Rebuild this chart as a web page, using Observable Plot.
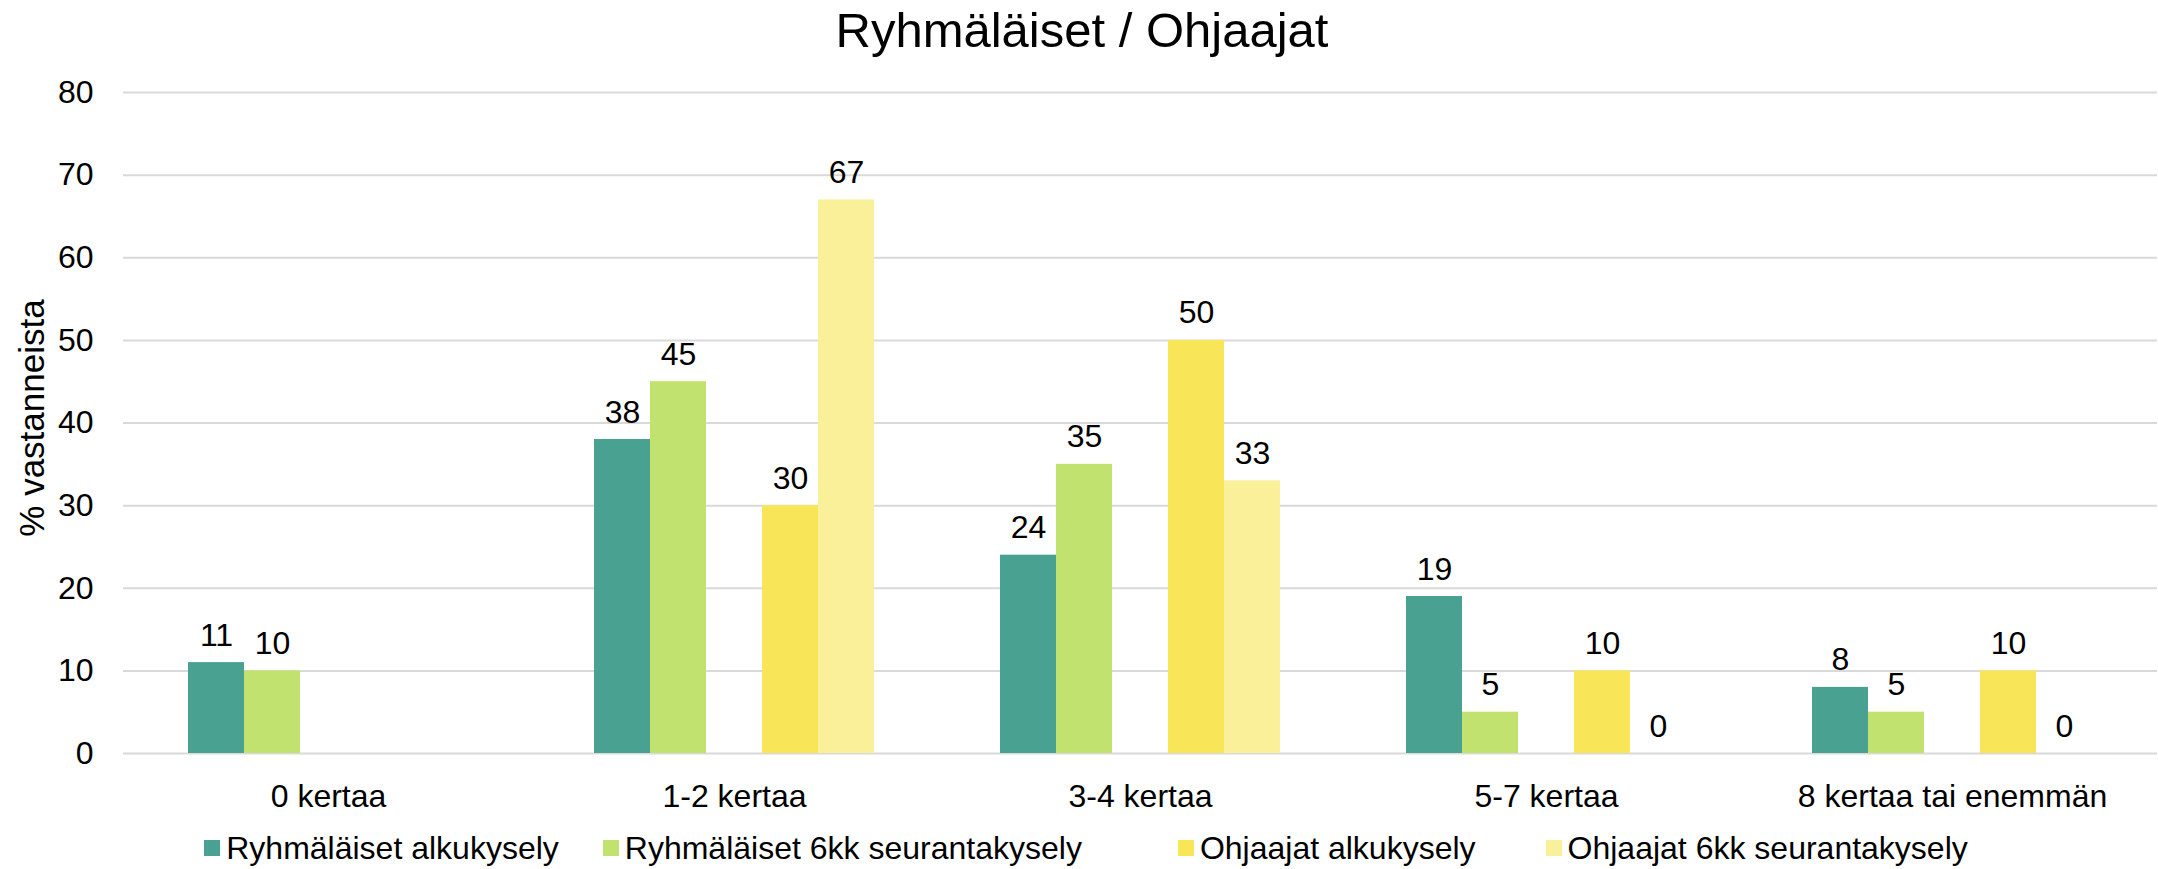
<!DOCTYPE html>
<html>
<head>
<meta charset="utf-8">
<script src="https://cdn.jsdelivr.net/npm/d3@7"></script>
<script src="https://cdn.jsdelivr.net/npm/@observablehq/plot@0.6"></script>
<style>
  body { margin: 0; background: #fff; font-family: "Liberation Sans", Arial, sans-serif; color: #000; }
  #wrap { position: relative; width: 2158px; height: 869px; overflow: hidden; background: #fff; }
  #wrap svg { position: absolute; left: 0; top: 0; }
  #title { position: absolute; left: 0; width: 2158px; top: 6px; text-align: center; font-size: 49px; line-height: 1; padding-left: 6px; box-sizing: border-box; }
  #ylab { position: absolute; left: 31px; top: 418px; font-size: 35px; line-height: 1; white-space: nowrap; transform: translate(-50%, -50%) rotate(-90deg); }
  #legend { position: absolute; left: 0; width: 2158px; top: 832px; display: flex; justify-content: center; align-items: center; font-size: 32px; line-height: 1; padding-left: 14px; box-sizing: border-box; }
  .item { display: flex; align-items: center; white-space: nowrap; }
  .sw { width: 16px; height: 16px; margin-right: 6px; display: inline-block; }
</style>
</head>
<body>
<div id="wrap"></div>
<script>
const title = "Ryhmäläiset / Ohjaajat";
const yLabel = "% vastanneista";
const categories = ["0 kertaa", "1-2 kertaa", "3-4 kertaa", "5-7 kertaa", "8 kertaa tai enemmän"];
const seriesNames = ["Ryhmäläiset alkukysely", "Ryhmäläiset 6kk seurantakysely", "Ohjaajat alkukysely", "Ohjaajat 6kk seurantakysely"];
const spacer = " "; // empty slot between the two groups of series
const ryhmalaisetAlku = [11, 38, 24, 19, 8];
const ryhmalaiset6kk = [10, 45, 35, 5, 5];
const ohjaajatAlku = [null, 30, 50, 10, 10];
const ohjaajat6kk = [null, 67, 33, 0, 0];
const yTicks = [0, 10, 20, 30, 40, 50, 60, 70, 80];
const colors = ["#48a191", "#c2e26f", "#f8e658", "#faf09a"];

const seriesValues = [ryhmalaisetAlku, ryhmalaiset6kk, ohjaajatAlku, ohjaajat6kk];
const rows = [];
categories.forEach((c, i) => {
  seriesValues.forEach((vals, k) => {
    if (vals[i] != null) rows.push({cat: c, series: seriesNames[k], value: vals[i]});
  });
});
const slots = [seriesNames[0], seriesNames[1], spacer, seriesNames[2], seriesNames[3]];

const W = 2158, H = 869;
const M = {top: 92, bottom: 116, left: 123, right: 1};
const style = {fontSize: "32px", fontFamily: "'Liberation Sans', Arial, sans-serif", color: "#000", background: "transparent", overflow: "visible"};

const wrap = document.getElementById("wrap");

const back = Plot.plot({
  width: W, height: H,
  marginTop: M.top, marginBottom: M.bottom, marginLeft: M.left, marginRight: M.right,
  style,
  x: {axis: null},
  y: {domain: [0, 80], ticks: yTicks, tickSize: 0, tickPadding: 30, label: null},
  marks: [
    Plot.ruleY(yTicks, {stroke: "#d9d9d9", strokeWidth: 2})
  ]
});
wrap.appendChild(back);

const front = Plot.plot({
  width: W, height: H,
  marginTop: M.top, marginBottom: M.bottom, marginLeft: M.left, marginRight: M.right,
  style,
  fx: {domain: categories, paddingInner: 0.305, paddingOuter: 0.1525, axis: "bottom", tickSize: 0, tickPadding: 31, label: null},
  x: {domain: slots, padding: 0, axis: null},
  y: {domain: [0, 80], axis: null},
  color: {domain: seriesNames, range: colors},
  marks: [
    Plot.barY(rows, {fx: "cat", x: "series", y: "value", fill: "series"}),
    Plot.text(rows, {fx: "cat", x: "series", y: "value", text: d => String(d.value), lineAnchor: "bottom", dy: -17, fontSize: 32, fill: "#000"})
  ]
});
wrap.appendChild(front);

const t = document.createElement("div");
t.id = "title"; t.textContent = title; wrap.appendChild(t);
const yl = document.createElement("div");
yl.id = "ylab"; yl.textContent = yLabel; wrap.appendChild(yl);
const lg = document.createElement("div");
lg.id = "legend";
const legendGaps = [0, 44, 96, 70];
seriesNames.forEach((s, k) => {
  const it = document.createElement("div"); it.className = "item";
  it.style.marginLeft = legendGaps[k] + "px";
  const sw = document.createElement("span"); sw.className = "sw"; sw.style.background = colors[k];
  const tx = document.createElement("span"); tx.textContent = s;
  it.appendChild(sw); it.appendChild(tx); lg.appendChild(it);
});
wrap.appendChild(lg);
</script>
</body>
</html>
